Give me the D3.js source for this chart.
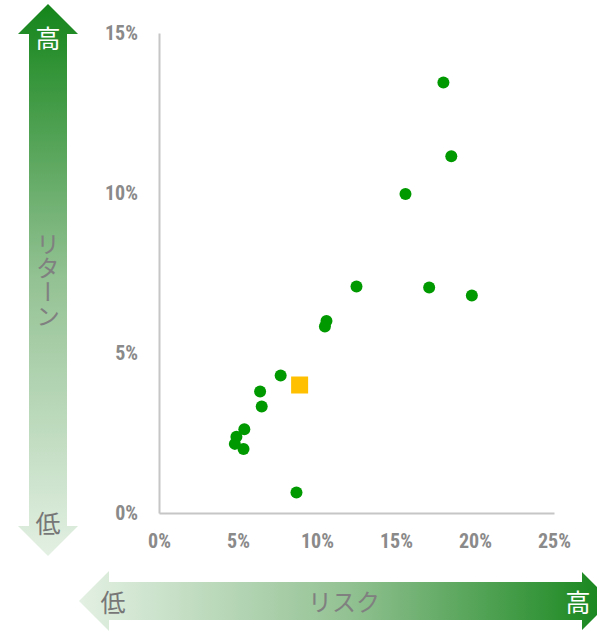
<!DOCTYPE html>
<html><head><meta charset="utf-8">
<script src="https://cdn.jsdelivr.net/npm/d3@7"></script>
<style>
body{margin:0;background:#fff;}
svg{display:block;}
</style></head>
<body>
<svg id="chart" width="597" height="631"></svg>
<script>
// Data (values in %)
const fundRisk   = [18.0, 18.5, 15.6, 12.5, 17.1, 19.8, 10.6, 10.5, 7.7, 6.4, 6.5, 5.4, 4.9, 4.8, 5.35, 8.7];
const fundReturn = [13.45, 11.15, 9.97, 7.08, 7.05, 6.8, 6.0, 5.83, 4.3, 3.8, 3.33, 2.62, 2.38, 2.16, 2.0, 0.64];
const highlightRisk = [8.9];
const highlightReturn = [4.0];
const xTicks = [0, 5, 10, 15, 20, 25];
const yTicks = [0, 5, 10, 15];
const xAxisLabel = "リスク";
const yAxisLabel = "リターン";
const highLabel = "高";
const lowLabel = "低";

const svg = d3.select("#chart");
const x = d3.scaleLinear().domain([0, 25]).range([159, 554]);
const y = d3.scaleLinear().domain([0, 15]).range([513, 33]);

const defs = svg.append("defs");
const gv = defs.append("linearGradient").attr("id","gv").attr("x1",0).attr("y1",0).attr("x2",0).attr("y2",1);
gv.append("stop").attr("offset","0%").attr("stop-color","#14851a");
gv.append("stop").attr("offset","50%").attr("stop-color","#94c294");
gv.append("stop").attr("offset","100%").attr("stop-color","#e3f0e3");
const gh = defs.append("linearGradient").attr("id","gh").attr("x1",0).attr("y1",0).attr("x2",1).attr("y2",0);
gh.append("stop").attr("offset","0%").attr("stop-color","#e3f0e3");
gh.append("stop").attr("offset","50%").attr("stop-color","#94c294");
gh.append("stop").attr("offset","100%").attr("stop-color","#14851a");

// vertical double arrow
svg.append("path")
  .attr("d","M48,4 L78,34 L67,34 L67,526 L78,526 L48,556 L18,526 L29,526 L29,34 L18,34 Z")
  .attr("fill","url(#gv)");
// horizontal double arrow
svg.append("path")
  .attr("d","M79,601 L109,571 L109,582 L582,582 L582,572 L611,601 L582,630 L582,620 L109,620 L109,631 Z")
  .attr("fill","url(#gh)");

const jp = "'Noto Sans CJK JP', sans-serif";
svg.append("text").attr("x",48).attr("y",37).attr("text-anchor","middle").attr("dominant-baseline","central")
  .attr("font-family",jp).attr("font-size",25).attr("fill","#fff").text(highLabel);
svg.append("text").attr("x",48).attr("y",522).attr("text-anchor","middle").attr("dominant-baseline","central")
  .attr("font-family",jp).attr("font-size",25).attr("fill","#777").text(lowLabel);
svg.append("text").attr("x",113).attr("y",601).attr("text-anchor","middle").attr("dominant-baseline","central")
  .attr("font-family",jp).attr("font-size",25).attr("fill","#777").text(lowLabel);
svg.append("text").attr("x",578).attr("y",601).attr("text-anchor","middle").attr("dominant-baseline","central")
  .attr("font-family",jp).attr("font-size",25).attr("fill","#fff").text(highLabel);
svg.append("text").attr("x",344).attr("y",600).attr("text-anchor","middle").attr("dominant-baseline","central")
  .attr("font-family",jp).attr("font-size",24).attr("fill","#808080").text(xAxisLabel);
svg.append("text").attr("x",48).attr("y",280).attr("text-anchor","middle")
  .attr("font-family",jp).attr("font-size",24).attr("fill","#808080")
  .style("writing-mode","vertical-rl").style("text-orientation","upright")
  .text(yAxisLabel);

// axes
const tickFont = "'Liberation Sans Narrow', 'Roboto Condensed', Roboto, sans-serif";
const yAxis = svg.append("g").attr("transform",`translate(${x(0)},0)`)
  .call(d3.axisLeft(y).tickValues(yTicks).tickSize(0).tickPadding(21).tickFormat(d => d + "%"));
const xAxis = svg.append("g").attr("transform",`translate(0,${y(0)})`)
  .call(d3.axisBottom(x).tickValues(xTicks).tickSize(0).tickPadding(21).tickFormat(d => d + "%"));
[xAxis, yAxis].forEach(g => {
  g.select(".domain").attr("stroke","#c6c6c6").attr("stroke-width",2);
  g.selectAll("text").attr("font-family",tickFont).attr("font-size",20).attr("font-weight",700).attr("fill","#8a8a8a");
});

// points
svg.append("g").selectAll("circle").data(fundRisk.map((r,i)=>({r, ret: fundReturn[i]})))
  .join("circle").attr("cx",d=>x(d.r)).attr("cy",d=>y(d.ret)).attr("r",6).attr("fill","#009900");
svg.append("g").selectAll("rect").data(highlightRisk.map((r,i)=>({r, ret: highlightReturn[i]})))
  .join("rect").attr("x",d=>x(d.r)-8.5).attr("y",d=>y(d.ret)-8.5).attr("width",17).attr("height",17).attr("fill","#ffc000");
</script>
</body></html>
